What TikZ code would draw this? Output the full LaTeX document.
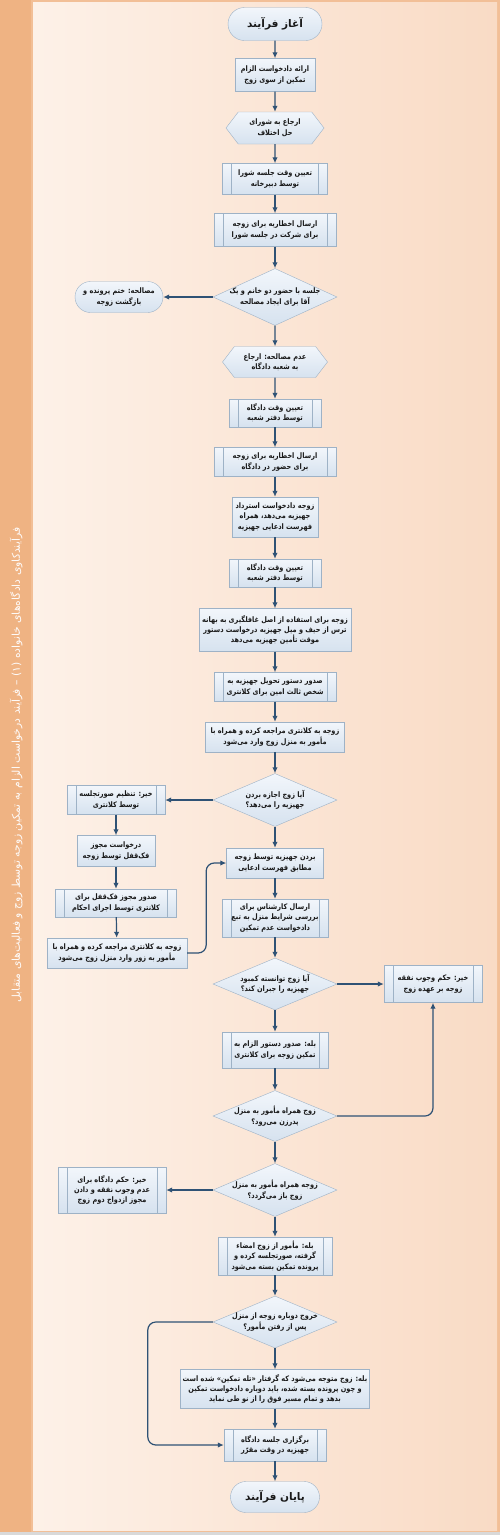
\documentclass[tikz,border=0pt]{standalone}
\usepackage{fontspec}
\usepackage{tikz}
\usetikzlibrary{shapes.geometric,shapes.misc,shapes.symbols,arrows.meta}
\TeXXeTstate=1
\newfontfamily\fafont[Script=Arabic]{DejaVu Sans}
\newfontfamily\fanarrow[Script=Arabic,FakeStretch=0.86]{DejaVu Sans}
\newcommand{\fa}[1]{\beginR #1\endR}
\definecolor{sidebar}{RGB}{239,179,131}
\definecolor{panelL}{RGB}{253,241,232}
\definecolor{panelR}{RGB}{249,219,197}
\definecolor{boxtop}{RGB}{242,246,251}
\definecolor{boxbot}{RGB}{214,226,239}
\definecolor{boxline}{RGB}{158,178,198}
\definecolor{flowblue}{RGB}{47,82,117}

\begin{document}
\begin{tikzpicture}[x=1pt,y=-1pt,
    txt/.style={font=\fanarrow\bfseries\fontsize{7.6}{10.4}\selectfont, text=black!90, align=center},
    box/.style={txt, rectangle, draw=boxline, top color=boxtop, bottom color=boxbot, inner xsep=2pt, inner ysep=1pt},
    sub/.style={box, inner xsep=9pt, path picture={
        \draw[boxline] ([xshift=9pt]path picture bounding box.north west) -- ([xshift=9pt]path picture bounding box.south west);
        \draw[boxline] ([xshift=-9pt]path picture bounding box.north east) -- ([xshift=-9pt]path picture bounding box.south east);}},
    term/.style={box, rounded rectangle},
    prep/.style={box, signal, signal to=west and east, signal pointer angle=105},
    decision/.style={diamond, draw=boxline, top color=boxtop, bottom color=boxbot, inner sep=0pt, minimum width=124pt},
    flow/.style={draw=flowblue, line width=1.2pt, -{Latex[length=6pt,width=5.5pt]}, rounded corners=8pt}]

  \useasboundingbox (0,0) rectangle (500,1535);
  \fill[sidebar!70!panelR] (0,0) rectangle (500,1535);
  \fill[sidebar] (0,0) rectangle (31,1532);
  \shade[left color=panelL, right color=panelR] (33,2) rectangle (497,1530);
  \fill[black!15] (0,1532) rectangle (500,1535);
  \node[rotate=90, text=white!95!sidebar, font=\fafont\fontsize{10.8}{12}\selectfont] (title) at (16,765)
    {\fa{فرآیندکاوی دادگاه‌های خانواده (۱) – فرآیند درخواست الزام به تمکین زوجه توسط زوج و فعالیت‌های متقابل}};

  % main column
  \node[term, minimum width=98pt, minimum height=33pt, font=\fafont\bfseries\fontsize{10.5}{12}\selectfont] (start) at (275,24) {\fa{آغاز فرآیند}};
  \node[box, minimum width=80pt, minimum height=33pt] (n2) at (275,75) {\fa{ارائه دادخواست الزام}\\\fa{تمکین از سوی زوج}};
  \node[prep, minimum width=98pt, minimum height=32pt] (hex3) at (275,128) {\fa{ارجاع به شورای}\\\fa{حل اختلاف}};
  \node[sub, minimum width=105pt, minimum height=31pt] (n4) at (275,179) {\fa{تعیین وقت جلسه شورا}\\\fa{توسط دبیرخانه}};
  \node[sub, minimum width=122pt, minimum height=33pt] (n5) at (275,230) {\fa{ارسال اخطاریه برای زوجه}\\\fa{برای شرکت در جلسه شورا}};
  \node[decision, minimum height=57pt] (q1) at (275,297) {};
  \node[txt] (q1t) at (q1) {\fa{جلسه با حضور دو خانم و یک}\\\fa{آقا برای ایجاد مصالحه}};
  \node[term, minimum width=92pt, minimum height=31pt] (ok) at (119,297) {\fa{مصالحه: ختم پرونده و}\\\fa{بازگشت زوجه}};
  \node[prep, minimum width=105pt, minimum height=31pt] (hex8) at (275,362) {\fa{عدم مصالحه: ارجاع}\\\fa{به شعبه دادگاه}};
  \node[sub, minimum width=92pt, minimum height=28pt] (n9) at (275,413) {\fa{تعیین وقت دادگاه}\\\fa{توسط دفتر شعبه}};
  \node[sub, minimum width=122pt, minimum height=29pt] (n10) at (275,462) {\fa{ارسال اخطاریه برای زوجه}\\\fa{برای حضور در دادگاه}};
  \node[box, minimum width=86pt, minimum height=40pt] (n11) at (275,517) {\fa{زوجه دادخواست استرداد}\\\fa{جهیزیه می‌دهد، همراه}\\\fa{فهرست ادعایی جهیزیه}};
  \node[sub, minimum width=92pt, minimum height=28pt] (n12) at (275,573) {\fa{تعیین وقت دادگاه}\\\fa{توسط دفتر شعبه}};
  \node[box, minimum width=152pt, minimum height=43pt] (n13) at (275,630) {\fa{زوجه برای استفاده از اصل غافلگیری به بهانه}\\\fa{ترس از حیف و میل جهیزیه درخواست دستور}\\\fa{موقت تأمین جهیزیه می‌دهد}};
  \node[sub, minimum width=122pt, minimum height=29pt] (n14) at (275,687) {\fa{صدور دستور تحویل جهیزیه به}\\\fa{شخص ثالث امین برای کلانتری}};
  \node[box, minimum width=139pt, minimum height=30pt] (n15) at (275,737) {\fa{زوجه به کلانتری مراجعه کرده و همراه با}\\\fa{مأمور به منزل زوج وارد می‌شود}};
  \node[decision, minimum height=53pt] (q2) at (275,800) {};
  \node[txt] (q2t) at (q2) {\fa{آیا زوج اجازه بردن}\\\fa{جهیزیه را می‌دهد؟}};

  % left branch
  \node[sub, minimum width=98pt, minimum height=29pt] (l1) at (116,800) {\fa{خیر: تنظیم صورتجلسه}\\\fa{توسط کلانتری}};
  \node[box, minimum width=78pt, minimum height=31pt] (l2) at (116,851) {\fa{درخواست مجوز}\\\fa{فک‌قفل توسط زوجه}};
  \node[sub, minimum width=121pt, minimum height=28pt] (l3) at (116,903) {\fa{صدور مجوز فک‌قفل برای}\\\fa{کلانتری توسط اجرای احکام}};
  \node[box, minimum width=140pt, minimum height=30pt] (l4) at (117,953) {\fa{زوجه به کلانتری مراجعه کرده و همراه با}\\\fa{مأمور به زور وارد منزل زوج می‌شود}};

  \node[box, minimum width=97pt, minimum height=30pt] (n21) at (275,863) {\fa{بردن جهیزیه توسط زوجه}\\\fa{مطابق فهرست ادعایی}};
  \node[sub, minimum width=106pt, minimum height=38pt] (n22) at (275,918) {\fa{ارسال کارشناس برای}\\\fa{بررسی شرایط منزل به تبع}\\\fa{دادخواست عدم تمکین}};
  \node[decision, minimum height=52pt] (q3) at (275,984) {};
  \node[txt] (q3t) at (q3) {\fa{آیا زوج توانسته کمبود}\\\fa{جهیزیه را جبران کند؟}};
  \node[sub, minimum width=98pt, minimum height=37pt] (r1) at (433,984) {\fa{خیر: حکم وجوب نفقه}\\\fa{زوجه بر عهده زوج}};
  \node[sub, minimum width=106pt, minimum height=36pt] (n25) at (275,1050) {\fa{بله: صدور دستور الزام به}\\\fa{تمکین زوجه برای کلانتری}};
  \node[decision, minimum height=51pt] (q4) at (275,1116) {};
  \node[txt] (q4t) at (q4) {\fa{زوج همراه مأمور به منزل}\\\fa{پدرزن می‌رود؟}};
  \node[decision, minimum height=53pt] (q5) at (275,1190) {};
  \node[txt] (q5t) at (q5) {\fa{زوجه همراه مأمور به منزل}\\\fa{زوج باز می‌گردد؟}};
  \node[sub, minimum width=108pt, minimum height=46pt] (l5) at (112,1190) {\fa{خیر: حکم دادگاه برای}\\\fa{عدم وجوب نفقه و دادن}\\\fa{مجوز ازدواج دوم زوج}};
  \node[sub, minimum width=114pt, minimum height=38pt] (n29) at (275,1256) {\fa{بله: مأمور از زوج امضاء}\\\fa{گرفته، صورتجلسه کرده و}\\\fa{پرونده تمکین بسته می‌شود}};
  \node[decision, minimum height=52pt] (q6) at (275,1322) {};
  \node[txt] (q6t) at (q6) {\fa{خروج دوباره زوجه از منزل}\\\fa{پس از رفتن مأمور؟}};
  \node[box, minimum width=184pt, minimum height=39pt] (n31) at (275,1389) {\fa{بله: زوج متوجه می‌شود که گرفتار «تله تمکین» شده است}\\\fa{و چون پرونده بسته شده، باید دوباره دادخواست تمکین}\\\fa{بدهد و تمام مسیر فوق را از نو طی نماید}};
  \node[sub, minimum width=102pt, minimum height=32pt] (n32) at (275,1445) {\fa{برگزاری جلسه دادگاه}\\\fa{جهیزیه در وقت مقرّر}};
  \node[term, minimum width=93pt, minimum height=31pt, font=\fafont\bfseries\fontsize{10.5}{12}\selectfont] (stop) at (275,1497) {\fa{پایان فرآیند}};

  % connectors
  \draw[flow] (start) -- (n2);
  \draw[flow] (n2) -- (hex3);
  \draw[flow] (hex3) -- (n4);
  \draw[flow] (n4) -- (n5);
  \draw[flow] (n5) -- (q1);
  \draw[flow] (q1.west) -- (ok.east);
  \draw[flow] (q1) -- (hex8);
  \draw[flow] (hex8) -- (n9);
  \draw[flow] (n9) -- (n10);
  \draw[flow] (n10) -- (n11);
  \draw[flow] (n11) -- (n12);
  \draw[flow] (n12) -- (n13);
  \draw[flow] (n13) -- (n14);
  \draw[flow] (n14) -- (n15);
  \draw[flow] (n15) -- (q2);
  \draw[flow] (q2.west) -- (l1.east);
  \draw[flow] (l1) -- (l2);
  \draw[flow] (l2) -- (l3);
  \draw[flow] (l3) -- (l4);
  \draw[flow] (l4.east) -- ++(19,0) |- (n21.west);
  \draw[flow] (q2) -- (n21);
  \draw[flow] (n21) -- (n22);
  \draw[flow] (n22) -- (q3);
  \draw[flow] (q3.east) -- (r1.west);
  \draw[flow] (q3) -- (n25);
  \draw[flow] (n25) -- (q4);
  \draw[flow] (q4.east) -| (r1.south);
  \draw[flow] (q4) -- (q5);
  \draw[flow] (q5.west) -- (l5.east);
  \draw[flow] (q5) -- (n29);
  \draw[flow] (n29) -- (q6);
  \draw[flow] (q6.west) -- ++(-65,0) |- (n32.west);
  \draw[flow] (q6) -- (n31);
  \draw[flow] (n31) -- (n32);
  \draw[flow] (n32) -- (stop);
\end{tikzpicture}
\end{document}
